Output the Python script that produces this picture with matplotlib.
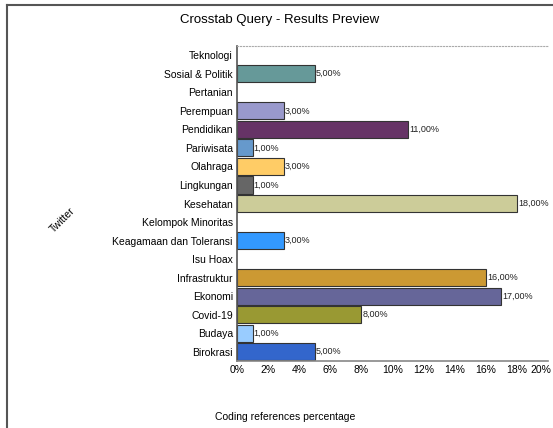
import matplotlib.pyplot as plt
import matplotlib.transforms as mtransforms
from matplotlib.lines import Line2D

plt.rcParams['font.family'] = ['Liberation Sans', 'DejaVu Sans']

categories = ['Teknologi', 'Sosial & Politik', 'Pertanian', 'Perempuan', 'Pendidikan',
              'Pariwisata', 'Olahraga', 'Lingkungan', 'Kesehatan', 'Kelompok Minoritas',
              'Keagamaan dan Toleransi', 'Isu Hoax', 'Infrastruktur', 'Ekonomi',
              'Covid-19', 'Budaya', 'Birokrasi']
values = [0, 5, 0, 3, 11, 1, 3, 1, 18, 0, 3, 0, 16, 17, 8, 1, 5]
colors = ['#ffffff', '#669999', '#ffffff', '#9999cc', '#663366', '#6699cc', '#ffcc66',
          '#666666', '#cccc99', '#ffffff', '#3399ff', '#ffffff', '#cc9933', '#666699',
          '#999933', '#99ccff', '#3366cc']
xticks = [0, 2, 4, 6, 8, 10, 12, 14, 16, 18, 20]

fig = plt.figure(figsize=(5.53, 4.28), dpi=100)
ax = fig.add_axes([0.4286, 0.1565, 0.5624, 0.736])

ypos = list(range(len(categories)))
for y, v, c in zip(ypos, values, colors):
    if v > 0:
        ax.barh(y, v, height=0.92, color=c, edgecolor='#333333', linewidth=0.8)
        ax.text(v + 0.08, y, f'{v:.2f}%'.replace('.', ','), va='center', ha='left',
                fontsize=6.5, color='#222222')

ax.set_xlim(0, 20)
ax.set_ylim(len(categories) - 0.5, -0.5)
ax.set_yticks(ypos)
ax.set_yticklabels(categories, fontsize=7.5)
ax.set_xticks(xticks)
ax.set_xticklabels([f'{t}%' for t in xticks], fontsize=7.5)
ax.tick_params(length=0, pad=3)

# last tick label sits a bit to the left so it stays inside the frame
last = ax.get_xticklabels()[-1]
last.set_transform(last.get_transform() +
                   mtransforms.ScaledTranslation(-5 / 72, 0, fig.dpi_scale_trans))

ax.spines['right'].set_visible(False)
ax.spines['top'].set_linestyle(':')
ax.spines['top'].set_color('#aaaaaa')
ax.spines['top'].set_linewidth(0.8)
ax.spines['left'].set_color('#555555')
ax.spines['left'].set_linewidth(1.2)
ax.spines['bottom'].set_color('#888888')
ax.spines['bottom'].set_linewidth(1.2)

fig.text(0.506, 0.953, 'Crosstab Query - Results Preview', ha='center', va='center', fontsize=9.5)
fig.text(0.515, 0.025, 'Coding references percentage', ha='center', va='center', fontsize=7.5)
fig.text(0.113, 0.485, 'Twitter', ha='center', va='center', rotation=45, fontsize=7.5)

# frame around the preview
fig.add_artist(Line2D([0.0127, 0.0127], [0.0, 0.988], color='#555555', linewidth=1.5))
fig.add_artist(Line2D([0.0127, 1.0], [0.988, 0.988], color='#555555', linewidth=1.5))

fig.savefig('out.png', dpi=100)
